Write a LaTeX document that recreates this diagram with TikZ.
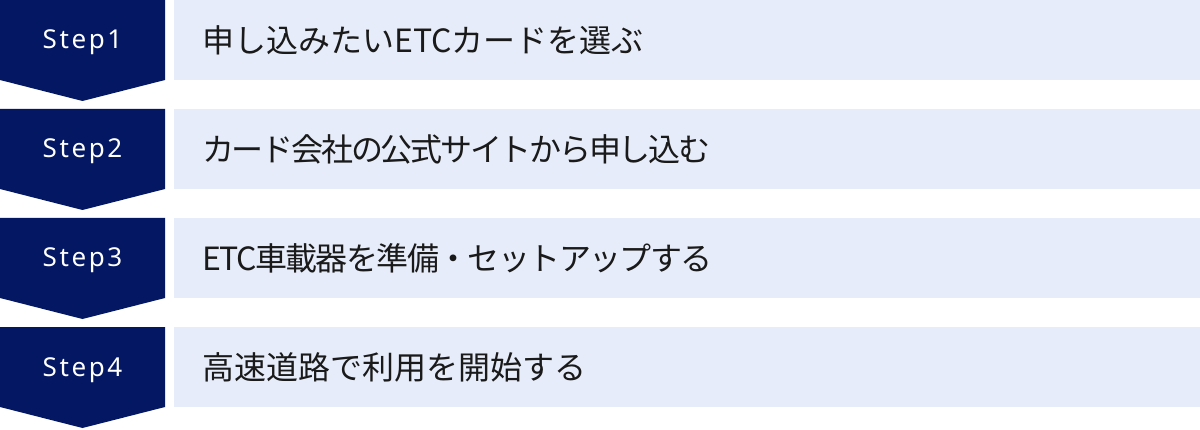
\documentclass[tikz,border=0pt]{standalone}
\usepackage{fontspec}
\setmainfont{Noto Sans}
\newfontfamily\stepfont[LetterSpace=10]{Noto Sans}
\newfontfamily\jpfont{Noto Sans CJK JP}
\newfontfamily\jpfontnarrow[LetterSpace=-7]{Noto Sans CJK JP}
\newfontfamily\jpfontsemi[LetterSpace=-5]{Noto Sans CJK JP}
\definecolor{stepnavy}{HTML}{031762}
\definecolor{taskblue}{HTML}{E6ECF9}
\definecolor{taskink}{HTML}{1A1A1A}
\tikzset{
  stepnum/.style={text=white, inner sep=0pt, anchor=base, font=\stepfont\fontsize{26}{26}\selectfont},
  taskbox/.style={fill=taskblue, anchor=north west, minimum height=80pt,
    inner xsep=28pt, text width=970pt, align=left, text=taskink,
    font=\jpfont\fontsize{32}{32}\selectfont},
  tasknarrow/.style={taskbox, font=\jpfontnarrow\fontsize{32}{32}\selectfont},
  tasksemi/.style={taskbox, font=\jpfontsemi\fontsize{32}{32}\selectfont}
}

\begin{document}
\begin{tikzpicture}[x=1pt,y=1pt]
    \useasboundingbox (0,0) rectangle (1200,429);

    \pgfmathsetmacro\w{165} % width of the step arrow
    \pgfmathsetmacro\h{80}  % height of one row
    \pgfmathsetmacro\tip{21} % depth of the arrow point

    % STEP 1
    \fill[stepnavy] (0,429) -- ++(\w,0) -- ++(0,-\h) -- ++(-\w/2,-\tip) -- ++(-\w/2,\tip) -- cycle;
    \node[stepnum] (step1) at (\w/2,380) {Step1};
    \node[taskbox] (task1) at (174,429) {申し込みたいETCカードを選ぶ};

    % STEP 2
    \fill[stepnavy] (0,320) -- ++(\w,0) -- ++(0,-\h) -- ++(-\w/2,-\tip) -- ++(-\w/2,\tip) -- cycle;
    \node[stepnum] (step2) at (\w/2,271) {Step2};
    \node[tasknarrow] (task2) at (174,320) {カード会社の公式サイトから申し込む};

    % STEP 3
    \fill[stepnavy] (0,211) -- ++(\w,0) -- ++(0,-\h) -- ++(-\w/2,-\tip) -- ++(-\w/2,\tip) -- cycle;
    \node[stepnum] (step3) at (\w/2,162) {Step3};
    \node[tasksemi] (task3) at (174,211) {ETC車載器を準備・セットアップする};

    % STEP 4
    \fill[stepnavy] (0,102) -- ++(\w,0) -- ++(0,-\h) -- ++(-\w/2,-\tip) -- ++(-\w/2,\tip) -- cycle;
    \node[stepnum] (step4) at (\w/2,53) {Step4};
    \node[taskbox] (task4) at (174,102) {高速道路で利用を開始する};

\end{tikzpicture}
\end{document}
